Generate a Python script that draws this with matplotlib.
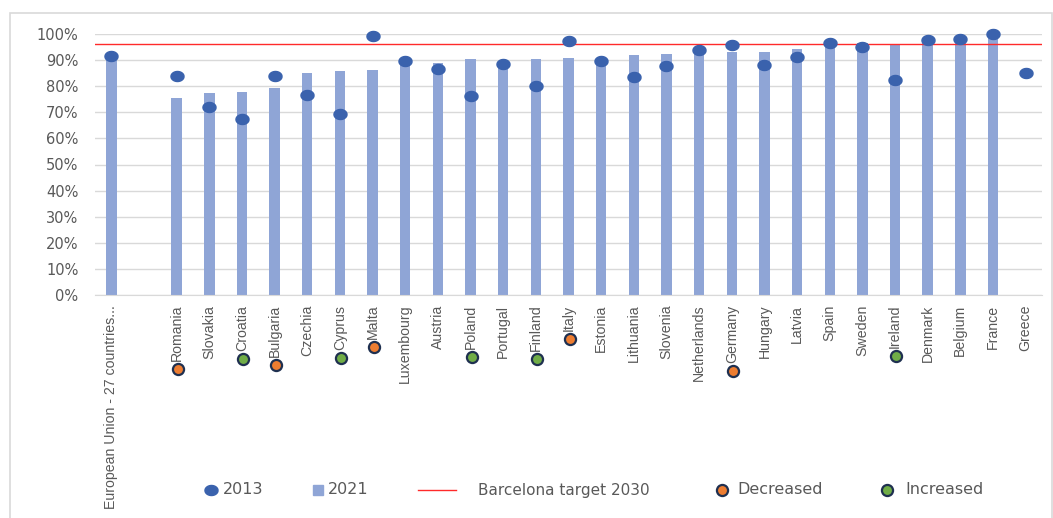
import matplotlib
matplotlib.use("Agg")
import matplotlib.pyplot as plt
import numpy as np
from matplotlib.path import Path
from matplotlib.lines import Line2D
from matplotlib.patches import Rectangle

# ---------------- data ----------------
categories = ["European Union - 27 countries...", "", "Romania", "Slovakia", "Croatia",
              "Bulgaria", "Czechia", "Cyprus", "Malta", "Luxembourg", "Austria", "Poland",
              "Portugal", "Finland", "Italy", "Estonia", "Lithuania", "Slovenia",
              "Netherlands", "Germany", "Hungary", "Latvia", "Spain", "Sweden", "Ireland",
              "Denmark", "Belgium", "France", "Greece"]
nan = np.nan
values_2021 = [91.0, nan, 75.5, 77.3, 77.7, 79.4, 85.2, 85.7, 86.1, 89.3, 88.9, 90.3,
               88.2, 90.4, 90.9, 89.2, 92.0, 92.2, 94.3, 93.0, 93.2, 94.3, 96.4, 96.4,
               96.2, 97.4, 98.0, 99.6, nan]
values_2013 = [91.6, nan, 83.9, 72.1, 67.4, 83.8, 76.6, 69.2, 99.4, 89.8, 86.5, 76.4,
               88.4, 79.9, 97.3, 89.5, 83.4, 87.9, 94.0, 95.8, 88.2, 91.2, 96.6, 94.9,
               82.2, 97.6, 98.2, 99.9, 85.2]
decreased = ["Romania", "Bulgaria", "Malta", "Italy", "Germany"]
increased = ["Croatia", "Cyprus", "Poland", "Finland", "Ireland"]
barcelona_target = 96.2
y_ticks = [0, 10, 20, 30, 40, 50, 60, 70, 80, 90, 100]

# ---------------- style ----------------
BAR_C = "#8fa5d6"
DOT_C = "#3a62ad"
GRID_C = "#d9d9d9"
TXT_C = "#595959"
ORANGE = "#ed7d31"
GREEN = "#70ad47"
NAVY = "#1f3050"
label_font = ["Liberation Sans Narrow", "Liberation Sans", "DejaVu Sans"]

W, H = 1053, 518
fig = plt.figure(figsize=(W / 100, H / 100), dpi=100)
ax = fig.add_axes([95 / W, 1 - 295 / H, (1042 - 95) / W, (295 - 34) / H])

# ellipse marker (slightly wider than tall)
t = np.linspace(0, 2 * np.pi, 60)
ell = Path(np.column_stack([1.3 * np.cos(t), np.sin(t)]))

x = np.arange(len(categories))
ax.bar(x, values_2021, width=0.32, color=BAR_C, zorder=2, label="2021")
ax.plot(x, values_2013, linestyle="none", marker=ell, markersize=9.4,
        color=DOT_C, zorder=4, clip_on=False, label="2013")
ax.axhline(barcelona_target, color="#ff2a2a", lw=1.0, zorder=3)

ax.set_xlim(-0.5, len(categories) - 0.5)
ax.set_ylim(0, 100)
ax.set_yticks(y_ticks)
ax.set_yticklabels([f"{v}%" for v in y_ticks], fontsize=10.5, color=TXT_C)
ax.yaxis.grid(True, color=GRID_C, lw=1, zorder=0)
ax.set_axisbelow(True)
for s in ["top", "right", "left"]:
    ax.spines[s].set_visible(False)
ax.spines["bottom"].set_color(GRID_C)
ax.tick_params(axis="y", length=0, pad=12)
ax.tick_params(axis="x", length=0, pad=7)
ax.set_xticks(x)
ax.set_xticklabels(categories, rotation=90, va="top", ha="center",
                   fontsize=10.2, color=TXT_C, family=label_font)

# status markers below the country labels
fig.canvas.draw()
renderer = fig.canvas.get_renderer()
inv = fig.transFigure.inverted()
for lab in ax.get_xticklabels():
    name = lab.get_text()
    if name in decreased or name in increased:
        bb = lab.get_window_extent(renderer)
        cx = (bb.x0 + bb.x1) / 2 + 1
        cy = bb.y0 - 8
        fx, fy = inv.transform((cx, cy))
        col = ORANGE if name in decreased else GREEN
        fig.add_artist(Line2D([fx], [fy], transform=fig.transFigure, marker="o",
                              markersize=8, markerfacecolor=col, markeredgecolor=NAVY,
                              markeredgewidth=1.6, linestyle="none"))

# legend (manual placement)
ly = 1 - 490 / H
def fx_(px):
    return px / W

fig.add_artist(Line2D([fx_(211)], [ly], transform=fig.transFigure, marker=ell,
                      markersize=9.4, color=DOT_C, linestyle="none"))
fig.text(fx_(223), ly, "2013", fontsize=11.5, color=TXT_C, va="center", ha="left")
fig.add_artist(Line2D([fx_(318)], [ly], transform=fig.transFigure, marker="s",
                      markersize=7, color=BAR_C, linestyle="none"))
fig.text(fx_(328), ly, "2021", fontsize=11.5, color=TXT_C, va="center", ha="left")
fig.add_artist(Line2D([fx_(418), fx_(456)], [ly, ly], transform=fig.transFigure,
                      color="#ff2a2a", lw=1.0))
fig.text(fx_(478), ly, "Barcelona target 2030", fontsize=11, color=TXT_C,
         va="center", ha="left")
fig.add_artist(Line2D([fx_(722)], [ly], transform=fig.transFigure, marker="o",
                      markersize=8, markerfacecolor=ORANGE, markeredgecolor=NAVY,
                      markeredgewidth=1.6, linestyle="none"))
fig.text(fx_(737), ly, "Decreased", fontsize=11.5, color=TXT_C, va="center", ha="left")
fig.add_artist(Line2D([fx_(887)], [ly], transform=fig.transFigure, marker="o",
                      markersize=8, markerfacecolor=GREEN, markeredgecolor=NAVY,
                      markeredgewidth=1.6, linestyle="none"))
fig.text(fx_(905), ly, "Increased", fontsize=11.5, color=TXT_C, va="center", ha="left")

# outer frame
fig.add_artist(Rectangle((10 / W, -0.02), (1052 - 10) / W, (518 - 13) / H + 0.02,
                         transform=fig.transFigure, fill=False, ec=GRID_C, lw=1.2))

fig.savefig("out.png", dpi=100)
